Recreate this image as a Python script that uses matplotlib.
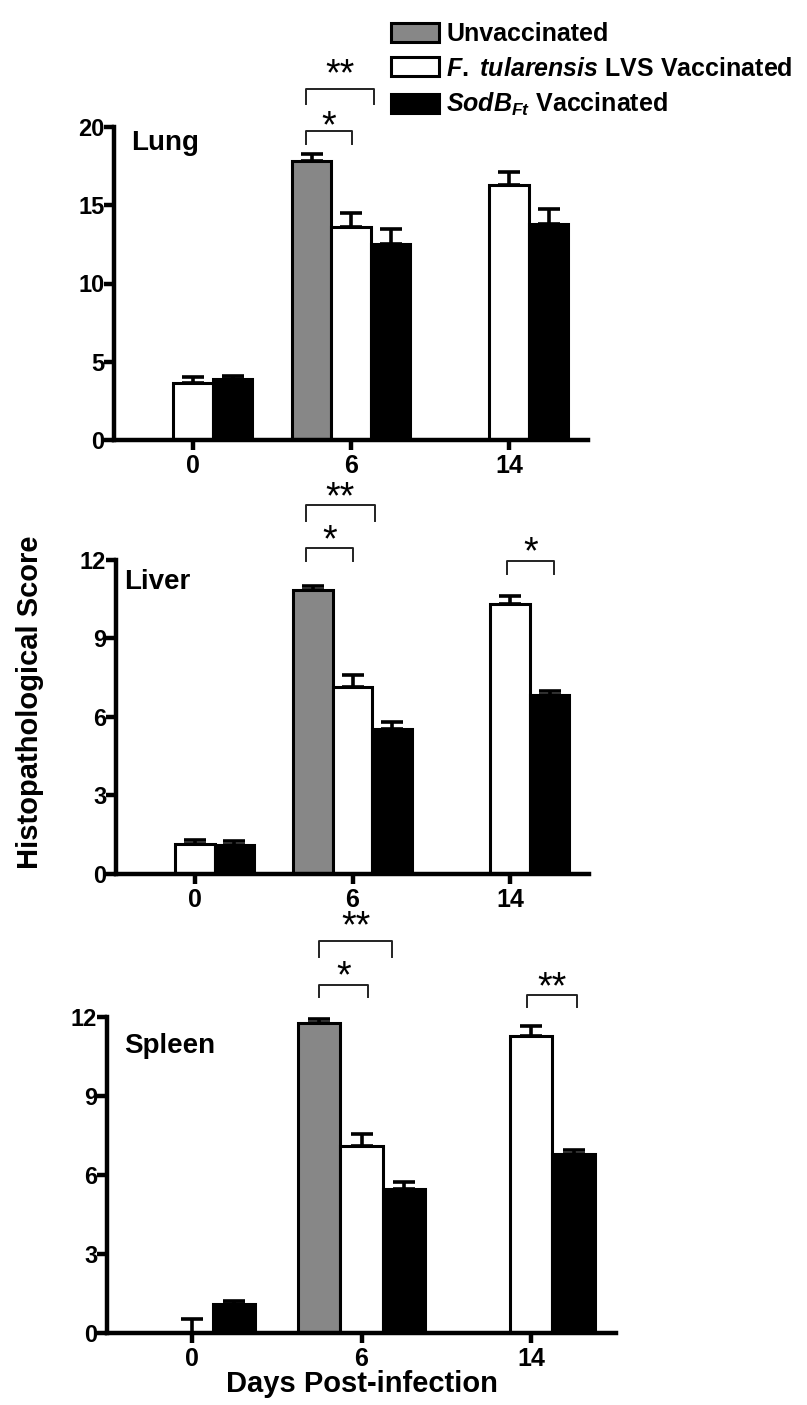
import numpy as np
import matplotlib
matplotlib.use("Agg")
import matplotlib.pyplot as plt
from matplotlib.patches import Patch

plt.rcParams['font.family'] = ['Liberation Sans', 'DejaVu Sans']
plt.rcParams['font.weight'] = 'bold'
plt.rcParams['mathtext.fontset'] = 'custom'
plt.rcParams['mathtext.rm'] = 'Liberation Sans:bold'
plt.rcParams['mathtext.it'] = 'Liberation Sans:italic:bold'
plt.rcParams['mathtext.bf'] = 'Liberation Sans:bold'

# data
days = ["0", "6", "14"]
group_labels = ["Unvaccinated",
                r"$\mathit{F.}$ $\mathit{tularensis}$ LVS Vaccinated",
                r"$\mathit{SodB}_{\mathit{Ft}}$ Vaccinated"]
nan = np.nan

lung_unvac = [nan, 17.8, nan]
lung_unvac_err = [nan, 0.45, nan]
lung_lvs = [3.62, 13.63, 16.3]
lung_lvs_err = [0.43, 0.85, 0.85]
lung_sod = [3.9, 12.5, 13.8]
lung_sod_err = [0.2, 1.0, 0.95]

liver_unvac = [nan, 10.85, nan]
liver_unvac_err = [nan, 0.15, nan]
liver_lvs = [1.15, 7.16, 10.32]
liver_lvs_err = [0.15, 0.45, 0.3]
liver_sod = [1.12, 5.54, 6.84]
liver_sod_err = [0.15, 0.28, 0.15]

spleen_unvac = [nan, 11.79, nan]
spleen_unvac_err = [nan, 0.14, nan]
spleen_lvs = [0.0, 7.1, 11.27]
spleen_lvs_err = [0.52, 0.45, 0.37]
spleen_sod = [1.09, 5.47, 6.8]
spleen_sod_err = [0.13, 0.25, 0.15]

colors = ["#878787", "white", "black"]

W, H = 807, 1405
fig = plt.figure(figsize=(W / 100, H / 100), dpi=100)


def px_axes(left, right, bottom, top):
    return fig.add_axes([left / W, 1 - bottom / H, (right - left) / W, (bottom - top) / H])


def panel(ax, series, errs, ymax, yticks, name, name_xy, brackets):
    x = np.arange(len(days))
    offsets = [-0.25, 0.0, 0.25]
    for vals, err, off, col in zip(series, errs, offsets, colors):
        vals = np.array(vals, dtype=float)
        err = np.array(err, dtype=float)
        ax.bar(x + off, vals, width=0.25, color=col, edgecolor="black",
               linewidth=2.2, zorder=2)
        ax.errorbar(x + off, vals, yerr=[np.zeros_like(err), err], fmt="none",
                    ecolor="black", elinewidth=2.6, capsize=8, capthick=2.6,
                    zorder=1, clip_on=False)
    ax.set_xlim(-0.5, 2.5)
    ax.set_ylim(0, ymax)
    ax.set_xticks(x)
    ax.set_xticklabels(days, fontsize=18, fontweight="bold")
    ax.set_yticks(yticks)
    ax.set_yticklabels([str(t) for t in yticks], fontsize=17, fontweight="bold")
    for s in ["top", "right"]:
        ax.spines[s].set_visible(False)
    for s in ["left", "bottom"]:
        ax.spines[s].set_linewidth(3.2)
    ax.tick_params(axis="both", width=3.2, length=7)
    ax.tick_params(axis="y", pad=0)
    ax.tick_params(axis="x", pad=3)
    fig.text(name_xy[0] / W, 1 - name_xy[1] / H, name, fontsize=20,
             fontweight="bold", va="top", ha="left")
    for x1, x2, ytop, leg, label, ty in brackets:
        ax.plot([x1, x1, x2, x2], [ytop - leg, ytop, ytop, ytop - leg],
                color="#222222", lw=1.4, clip_on=False)
        ax.text((x1 + x2) / 2, ty, label, ha="center", va="center",
                fontsize=27, fontweight="normal", clip_on=False)


ax1 = px_axes(114, 588, 440, 127)
panel(ax1, [lung_unvac, lung_lvs, lung_sod],
      [lung_unvac_err, lung_lvs_err, lung_sod_err], 20, [0, 5, 10, 15, 20],
      "Lung", (131, 130),
      [(0.713, 1.006, 19.74, 0.8, "*", 20.0),
       (0.713, 1.143, 22.45, 1.0, "**", 23.3)])

ax2 = px_axes(116, 589, 874, 560)
panel(ax2, [liver_unvac, liver_lvs, liver_sod],
      [liver_unvac_err, liver_lvs_err, liver_sod_err], 12, [0, 3, 6, 9, 12],
      "Liver", (124, 569),
      [(0.705, 1.0, 12.45, 0.49, "*", 12.7),
       (0.705, 1.142, 14.12, 0.64, "**", 14.35),
       (1.98, 2.277, 11.98, 0.52, "*", 12.25)])

ax3 = px_axes(107, 616, 1333, 1017)
panel(ax3, [spleen_unvac, spleen_lvs, spleen_sod],
      [spleen_unvac_err, spleen_lvs_err, spleen_sod_err], 12, [0, 3, 6, 9, 12],
      "Spleen", (124, 1033),
      [(0.75, 1.04, 13.23, 0.48, "*", 13.5),
       (0.75, 1.18, 14.89, 0.61, "**", 15.4),
       (1.975, 2.27, 12.85, 0.48, "**", 13.1)])

ax3.set_xlabel("Days Post-infection", fontsize=21, fontweight="bold", labelpad=-1)
fig.text(0.037, 0.5, "Histopathological Score", rotation=90, fontsize=21,
         fontweight="bold", ha="center", va="center")

handles = [Patch(facecolor=c, edgecolor="black", linewidth=2.2) for c in colors]
fig.legend(handles, group_labels, loc="upper left",
           bbox_to_anchor=(391 / W, 1 - 22 / H), frameon=False,
           prop={"size": 18, "weight": "bold"}, handlelength=1.9,
           handleheight=0.8, handletextpad=0.3, labelspacing=0.42,
           borderaxespad=0, borderpad=0)

fig.savefig("out.png", dpi=100)
